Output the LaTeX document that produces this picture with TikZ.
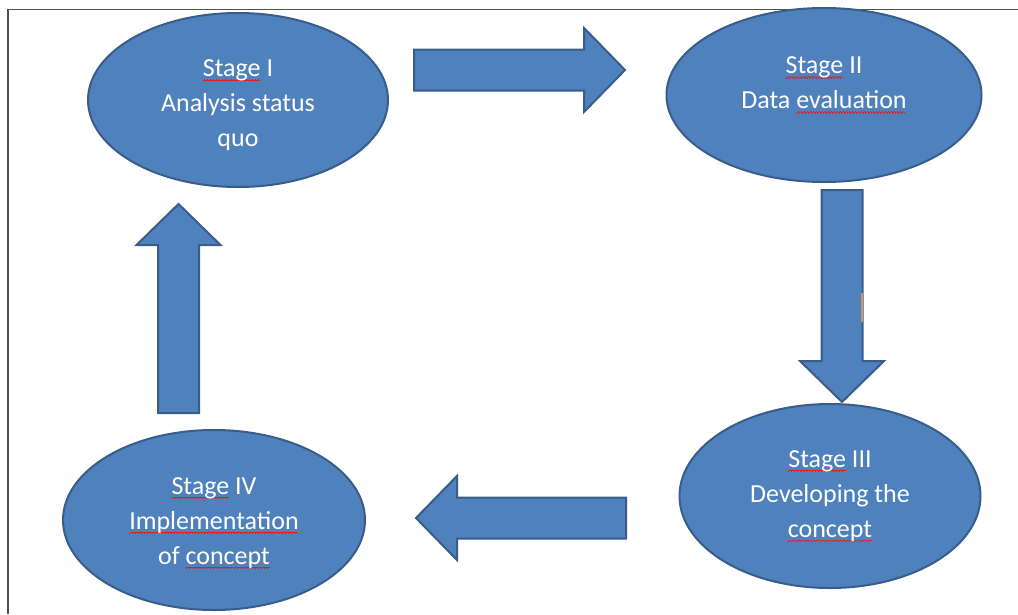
\documentclass[tikz,border=0pt]{standalone}
\usepackage{fontspec}
\setmainfont{Carlito}
\usetikzlibrary{shapes.geometric, calc}
\definecolor{stagefill}{RGB}{79, 129, 189}
\definecolor{stageline}{RGB}{56, 93, 138}
\definecolor{framegray}{RGB}{80, 80, 80}
\definecolor{spellred}{RGB}{225, 30, 30}
\definecolor{markorange}{RGB}{205, 150, 95}
\newcommand{\spell}[1]{\setbox0\hbox{#1}\rlap{\color{spellred}\leaders\hbox{\rule[-4.4pt]{0.75pt}{0.7pt}\rule[-3.8pt]{0.75pt}{0.7pt}\rule[-3.2pt]{0.75pt}{0.7pt}\rule[-3.8pt]{0.75pt}{0.7pt}}\hskip\wd0}\box0\relax}

\begin{document}
\begin{tikzpicture}[
    x=1pt, y=-1pt,
    stage/.style={ellipse, draw=stageline, fill=stagefill, line width=2pt, text=white, align=center, inner sep=0pt, outer sep=0pt, font=\fontsize{26}{35}\selectfont},
    blockarrow/.style={draw=stageline, fill=stagefill, line width=2pt, line join=miter},
    frame/.style={draw=framegray, line width=1.4pt}
]

\useasboundingbox (0,0) rectangle (1018,614);

% Frame
\draw[frame] (8,614) -- (8,9.5) -- (1018,9.5);

% Stages
\node[stage, minimum width=300pt, minimum height=174pt, text height=97pt] (s1) at (238,100) {\spell{Stage} I\\Analysis status\\quo};
\node[stage, minimum width=315pt, minimum height=174pt, text depth=24pt] (s2) at (824,95) {\spell{Stage} II\\Data \spell{evaluation}};
\node[stage, minimum width=301pt, minimum height=184pt] (s3) at (830,496) {\spell{Stage} III\\Developing the\\\spell{concept}};
\node[stage, minimum width=302pt, minimum height=180pt, text height=93pt] (s4) at (214,520) {\spell{Stage} IV\\\spell{Implementation}\\of \spell{concept}};

% Block arrows
\coordinate (tail1) at (414,70);
\coordinate (tip1) at (625,70);
\coordinate (tail2) at (842,190);
\coordinate (tip2) at (842,402);
\coordinate (tail3) at (626,518);
\coordinate (tip3) at (416,518);
\coordinate (tail4) at (178.5,413);
\coordinate (tip4) at (178.5,204);

\foreach \i in {1,...,4} {
    \coordinate (head\i) at ($(tip\i)!41pt!(tail\i)$);
    \draw[blockarrow] ($(tail\i)!20.5pt!90:(tip\i)$) -- ($(head\i)!20.5pt!90:(tip\i)$)
        -- ($(head\i)!42pt!90:(tip\i)$) -- (tip\i) -- ($(head\i)!42pt!-90:(tip\i)$)
        -- ($(head\i)!20.5pt!-90:(tip\i)$) -- ($(tail\i)!20.5pt!-90:(tip\i)$) -- cycle;
}

% Mark on the down arrow
\draw[markorange, line width=1.5pt] (862,293) -- (862,322);

\end{tikzpicture}
\end{document}
